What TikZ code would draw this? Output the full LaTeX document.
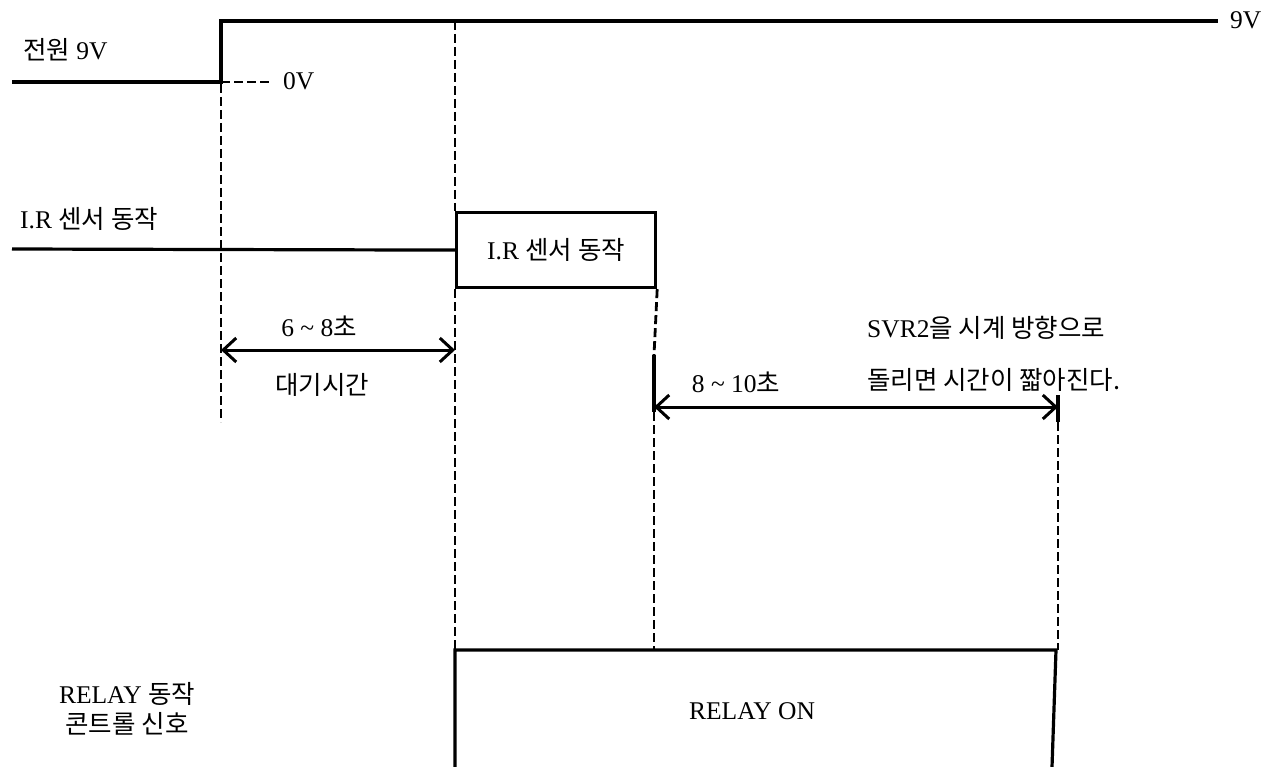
\documentclass[tikz,border=0pt]{standalone}
\usepackage{fontspec}
\setmainfont{Liberation Serif}
\newfontfamily\kr{Noto Sans CJK KR}
\usetikzlibrary{arrows.meta}
\newcommand\K[1]{{\kr #1}}
\begin{document}
\begin{tikzpicture}[x=1pt,y=-1pt,
  wave/.style={line width=3.2pt},
  guide/.style={line width=2.8pt, dash pattern=on 9pt off 4pt},
  dimline/.style={line width=3pt, {Straight Barb[length=13pt,width=24pt]}-{Straight Barb[length=13pt,width=24pt]}},
  lbl/.style={inner sep=0pt, font=\fontsize{25.5}{30}\selectfont}]
\useasboundingbox (0,0) rectangle (1276,767);
% power waveform
\coordinate (pL) at (12,82);
\coordinate (pRise) at (221,82);
\coordinate (pTop) at (221,21);
\coordinate (pR) at (1218,21);
\coordinate (zEnd) at (272,82);
\draw[wave] (pL) -- (pRise) -- (pTop) -- (pR);
\draw[guide] (pRise) -- (zEnd);
\node[lbl,anchor=west] (zero) at (283,81) {0V};
\node[lbl,anchor=west] (nine) at (1230,20) {9V};
\node[lbl,anchor=west] (pwr) at (23,50) {\K{전원} 9V};
% IR sensor waveform
\node[draw, line width=3.2pt, minimum width=199pt, minimum height=75pt, anchor=north west, lbl] (irbox) at (455,211) {I.R \K{센서 동작}};
\coordinate (irL) at (12,249);
\draw[wave] (irL) -- (irbox.west);
\node[lbl,anchor=west] (irlbl) at (20,219) {I.R \K{센서 동작}};
% guides
\coordinate (g1a) at (221,84);
\coordinate (g1b) at (221,422);
\draw[guide] (g1a) -- (g1b);
\coordinate (g2a) at (455,21);
\draw[guide] (g2a) -- (irbox.north west);
\coordinate (g2b) at (455,650);
\draw[guide] (irbox.south west) -- (g2b);
\coordinate (g3a) at (654,355);
\coordinate (g3b) at (654,412);
\coordinate (g3c) at (654,650);
\draw[guide] (irbox.south east) -- (g3a);
\draw[wave] (g3a) -- (g3b);
\draw[guide] (g3b) -- (g3c);
\coordinate (g4a) at (1058,395);
\coordinate (g4b) at (1058,422);
\coordinate (g4c) at (1058,650);
\draw[wave] (g4a) -- (g4b);
\draw[guide] (g4b) -- (g4c);
% dimension arrows
\coordinate (a1L) at (221,350);
\coordinate (a1R) at (455,350);
\draw[dimline] (a1L) -- (a1R);
\node[lbl] (t1) at (319,326) {6 \textasciitilde{} 8\K{초}};
\node[lbl] (w1) at (322,385) {\K{대기시간}};
\coordinate (a2L) at (654,407);
\coordinate (a2R) at (1058,407);
\draw[dimline] (a2L) -- (a2R);
\node[lbl] (t2) at (736,382) {8 \textasciitilde{} 10\K{초}};
\node[lbl,anchor=west] (s1) at (867,328) {SVR2\K{을 시계 방향으로}};
\node[lbl,anchor=west] (s2) at (867,380) {\K{돌리면 시간이 짧아진다.}};
% relay waveform
\coordinate (rBL) at (455,767);
\coordinate (rTL) at (455,650);
\coordinate (rTR) at (1056,650);
\coordinate (rBR) at (1052,767);
\draw[wave] (rBL) -- (rTL) -- (rTR) -- (rBR);
\node[lbl] (ron) at (752,711) {RELAY ON};
\node[lbl,align=center] (rlbl) at (127,709) {RELAY \K{동작}\\\K{콘트롤 신호}};
\end{tikzpicture}
\end{document}
